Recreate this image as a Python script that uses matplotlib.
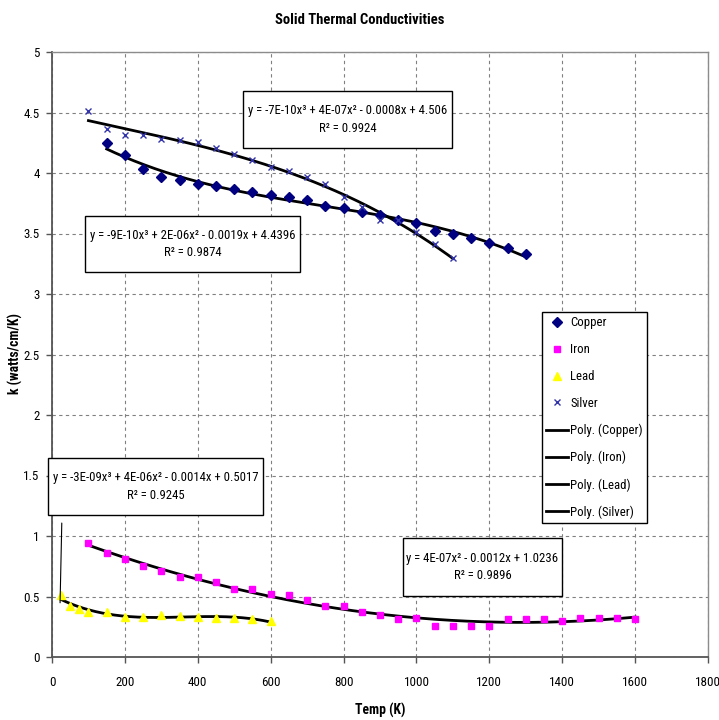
import matplotlib
matplotlib.use("Agg")
import matplotlib.pyplot as plt
from matplotlib.patches import Rectangle
import numpy as np

# =========================================================
# DATA
# =========================================================

copper_temp = [150, 200, 250, 300, 350, 400, 450, 500, 550, 600, 650, 700,
               750, 800, 850, 900, 950, 1000, 1050, 1100, 1150, 1200, 1250, 1300]
copper_k = [4.25, 4.15, 4.03, 3.97, 3.94, 3.91, 3.89, 3.87, 3.84, 3.82, 3.80, 3.78,
            3.73, 3.71, 3.68, 3.65, 3.61, 3.59, 3.52, 3.50, 3.46, 3.42, 3.38, 3.33]

iron_temp = [100, 150, 200, 250, 300, 350, 400, 450, 500, 550, 600, 650, 700, 750,
             800, 850, 900, 950, 1000, 1050, 1100, 1150, 1200, 1250, 1300, 1350,
             1400, 1450, 1500, 1550, 1600]
iron_k = [0.94, 0.86, 0.81, 0.75, 0.71, 0.66, 0.66, 0.62, 0.56, 0.56, 0.52, 0.51,
          0.47, 0.42, 0.42, 0.37, 0.35, 0.31, 0.32, 0.26, 0.26, 0.26, 0.26, 0.31,
          0.31, 0.31, 0.30, 0.32, 0.32, 0.32, 0.31]

lead_temp = [25, 50, 75, 100, 150, 200, 250, 300, 350, 400, 450, 500, 550, 600]
lead_k = [0.51, 0.42, 0.40, 0.37, 0.37, 0.33, 0.33, 0.35, 0.34, 0.33, 0.32, 0.32,
          0.31, 0.30]

silver_temp = [100, 150, 200, 250, 300, 350, 400, 450, 500, 550, 600, 650, 700,
               750, 800, 850, 900, 950, 1000, 1050, 1100]
silver_k = [4.51, 4.36, 4.31, 4.31, 4.28, 4.27, 4.26, 4.21, 4.16, 4.11, 4.05, 4.02,
            3.97, 3.91, 3.80, 3.72, 3.61, 3.61, 3.51, 3.41, 3.30]

x_ticks = [0, 200, 400, 600, 800, 1000, 1200, 1400, 1600, 1800]
y_ticks = [0, 0.5, 1, 1.5, 2, 2.5, 3, 3.5, 4, 4.5, 5]

copper_eq = "y = -9E-10x³ + 2E-06x² - 0.0019x + 4.4396\nR² = 0.9874"
silver_eq = "y = -7E-10x³ + 4E-07x² - 0.0008x + 4.506\nR² = 0.9924"
lead_eq = "y = -3E-09x³ + 4E-06x² - 0.0014x + 0.5017\nR² = 0.9245"
iron_eq = "y = 4E-07x² - 0.0012x + 1.0236\nR² = 0.9896"

# =========================================================
# STYLE
# =========================================================

# the original uses a narrow font; take a condensed face if one is around
plt.rcParams['font.family'] = ['Roboto Condensed', 'Liberation Sans Narrow',
                               'Open Sans Condensed', 'DejaVu Sans']
plt.rcParams['font.stretch'] = 'condensed'

W, H = 719, 720
fig = plt.figure(figsize=(W / 100, H / 100), dpi=100)
ax = fig.add_axes([52 / W, 63 / H, 656 / W, 605 / H])


def trend(ax, temps, ks, order, label):
    coef = np.polyfit(temps, ks, order)
    xs = np.linspace(min(temps), max(temps), 200)
    ax.plot(xs, np.polyval(coef, xs), color="black", lw=2, label=label, zorder=3)
    return coef


# markers
ax.plot(copper_temp, copper_k, "D", color="#000080", ms=4.8, ls="none", label="Copper", zorder=4)
ax.plot(iron_temp, iron_k, "s", color="#FF00FF", ms=5, ls="none", label="Iron", zorder=4)
ax.plot(lead_temp, lead_k, "^", color="#FFFF00", ms=6, ls="none", label="Lead", zorder=4)
ax.plot(silver_temp, silver_k, "x", color="#3333AA", ms=5, mew=1, ls="none", label="Silver", zorder=4)

# trend lines
trend(ax, copper_temp, copper_k, 3, "Poly. (Copper)")
trend(ax, iron_temp, iron_k, 2, "Poly. (Iron)")
lead_coef = trend(ax, lead_temp, lead_k, 3, "Poly. (Lead)")
trend(ax, silver_temp, silver_k, 3, "Poly. (Silver)")

# =========================================================
# AXES
# =========================================================

ax.set_xlim(0, 1800)
ax.set_ylim(0, 5)
ax.set_xticks(x_ticks)
ax.set_yticks(y_ticks)
ax.set_xticklabels([str(v) for v in x_ticks])
ax.set_yticklabels(["%g" % v for v in y_ticks])
ax.tick_params(labelsize=9.4, direction="out", length=4, width=1, color="#555555", pad=5)
ax.tick_params(axis="x", pad=10)

ax.grid(True, color="#808080", ls=(0, (3, 3)), lw=0.8)
ax.set_axisbelow(True)

for side in ["left", "bottom"]:
    ax.spines[side].set_color("#555555")
    ax.spines[side].set_linewidth(1.3)
for side in ["top", "right"]:
    ax.spines[side].set_color("#8c8c8c")
    ax.spines[side].set_linewidth(1)

fig.text(0.5, 1 - 20 / H, "Solid Thermal Conductivities", ha="center", va="center",
         fontsize=10.5, fontweight="bold")
fig.text(380 / W, 1 - 710 / H, "Temp (K)", ha="center", va="center", fontsize=9.8,
         fontweight="bold")
fig.text(15 / W, 1 - 354 / H, "k (watts/cm/K)", ha="center", va="center", rotation=90,
         fontsize=9.8, fontweight="bold")

# =========================================================
# EQUATION LABELS (boxes placed in pixel terms like the original)
# =========================================================

labels = [((243, 91, 452, 148), silver_eq),
          ((85, 216, 300, 272), copper_eq),
          ((48, 458, 263, 515), lead_eq),
          ((403, 538, 562, 596), iron_eq)]
for (x0, y0, x1, y1), txt in labels:
    fig.patches.append(Rectangle((x0 / W, 1 - y1 / H), (x1 - x0) / W, (y1 - y0) / H,
                                 transform=fig.transFigure, facecolor="white",
                                 edgecolor="black", lw=1, zorder=5))
    fig.text((x0 + x1) / 2 / W, 1 - (y0 + y1) / 2 / H, txt, ha="center", va="center",
             multialignment="center", fontsize=9.2, linespacing=1.45, zorder=6)

# leader from the lead label down to its curve
ax.annotate("", xy=(lead_temp[0] - 3, np.polyval(lead_coef, lead_temp[0]) - 0.05),
            xytext=(lead_temp[0] + 2, 1.13),
            arrowprops=dict(arrowstyle="-", color="black", lw=0.8), zorder=5)

# =========================================================
# LEGEND
# =========================================================

leg = ax.legend(loc="upper left", bbox_to_anchor=((542 - 52) / 656, (657 - 312) / 605),
                fontsize=9.2, frameon=True, fancybox=False, framealpha=1,
                edgecolor="black", borderpad=0.35, labelspacing=1.08, handlelength=1.7,
                handletextpad=0.15, numpoints=1, borderaxespad=0)
leg.get_frame().set_linewidth(1)

fig.savefig("out.png", dpi=100)
